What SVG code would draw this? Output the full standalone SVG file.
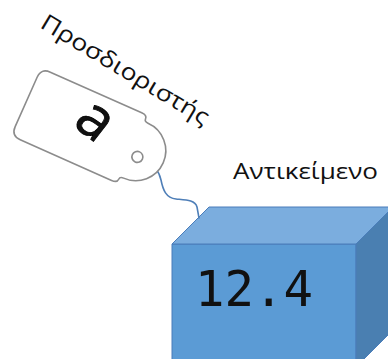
<svg xmlns="http://www.w3.org/2000/svg" width="388" height="359" viewBox="0 0 388 359">
  <style>
    .label { font-family: "Open Sans", "Noto Sans", sans-serif; fill: #111111; }
    .tag { fill: #ffffff; stroke: #8c8c8c; stroke-width: 1.6; }
    .face { stroke: #4a7dba; stroke-width: 1; stroke-linejoin: round; }
    .string { fill: none; stroke: #4f7fb8; stroke-width: 1.6; stroke-linecap: round; }
  </style>

  <!-- object: a 3D box holding the value -->
  <g id="object">
    <polygon class="face" fill="#5b9bd5" points="172,244 356,244 356,367 172,367"/>
    <polygon class="face" fill="#7badde" points="172,244 209,207 393,207 356,244"/>
    <polygon class="face" fill="#4a7fb1" points="356,244 393,207 393,330 356,367"/>
    <text x="195" y="306" font-family="'DejaVu Sans Mono', 'Liberation Mono', monospace" font-size="49" fill="#111">12.4</text>
    <text class="label" x="233" y="179" font-size="21" textLength="145" lengthAdjust="spacingAndGlyphs">Αντικείμενο</text>
  </g>

  <!-- connectors: the tag's string tied to the box -->
  <g id="connectors">
    <path class="string" d="M144,161 C152,164 159,170 161,180 C163,190 166,198 176,199 C186,200 195,200 197,207 L199,218"/>
  </g>

  <!-- identifier: a luggage tag with the name -->
  <g id="identifier">
    <g transform="translate(41.2,68.1) rotate(24)">
      <path class="tag" d="M10,0 L110,0 Q116,0 116,4 Q116,7 120,7 A30,30 0 0 1 120,67 Q116,67 116,70 Q116,74 110,74 L10,74 Q0,74 0,64 L0,10 Q0,0 10,0 Z"/>
      <circle cx="124" cy="42" r="5.5" fill="none" stroke="#8c8c8c" stroke-width="1.6"/>
    </g>
    <text class="label" font-size="58" fill="#000" stroke="#000" stroke-width="0.8" text-anchor="middle" transform="translate(95,121) rotate(38)" dy="17">a</text>
    <text class="label" font-size="23" transform="translate(39,27) rotate(31)" textLength="192" lengthAdjust="spacingAndGlyphs">Προσδιοριστής</text>
  </g>
</svg>
